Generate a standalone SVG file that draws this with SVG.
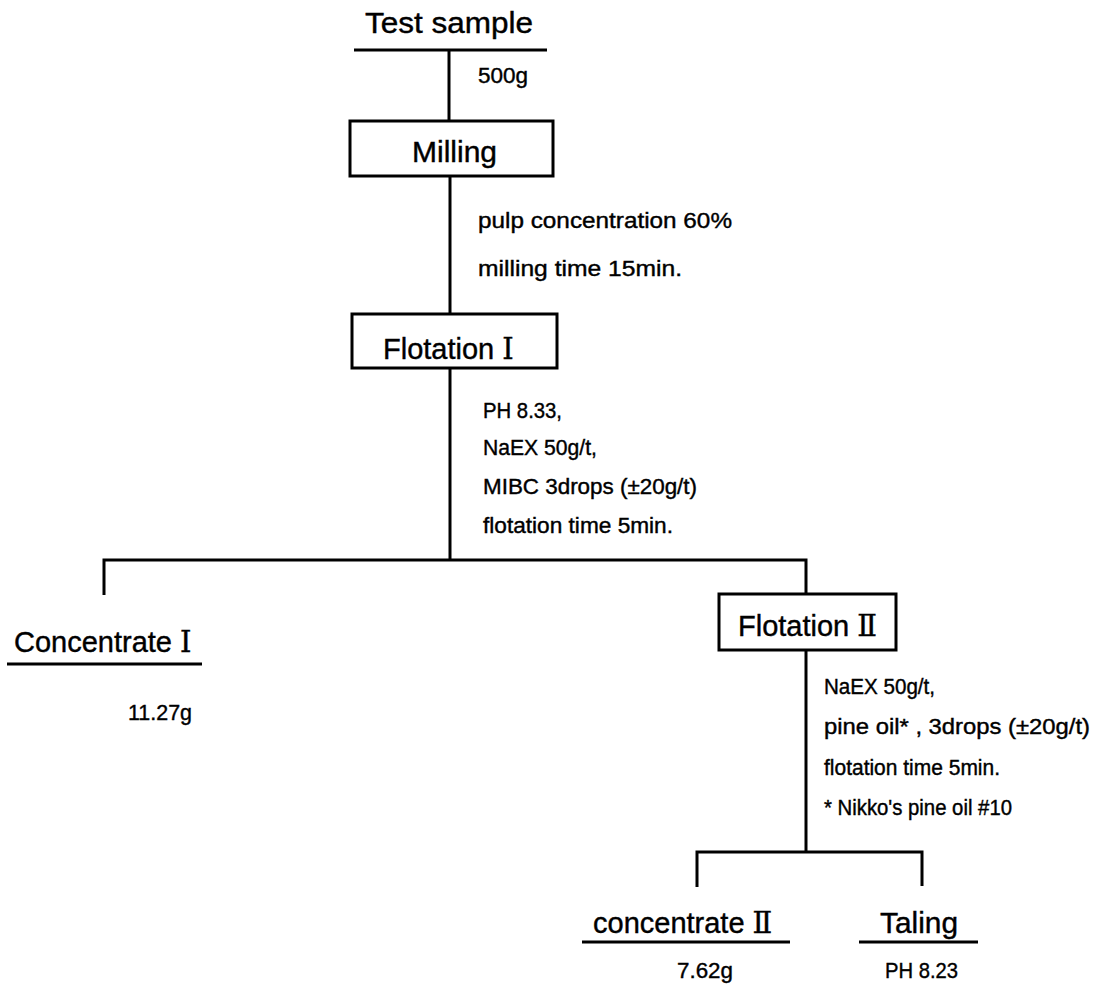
<svg xmlns="http://www.w3.org/2000/svg" width="1099" height="988" viewBox="0 0 1099 988">
<style>
.ln{stroke:#000;stroke-width:3;fill:none}
.box{stroke:#000;stroke-width:3;fill:#fff}
.big{font-family:"Liberation Sans",Arial,sans-serif;font-size:29px;fill:#000;stroke:#000;stroke-width:0.4}
.sm{font-family:"Liberation Sans",Arial,sans-serif;font-size:22px;fill:#000;stroke:#000;stroke-width:0.4}
.rn{font-family:"DejaVu Serif","Liberation Serif","Noto Sans CJK JP",serif}
</style>
<rect width="1099" height="988" fill="#fff"/>
<g id="connectors">
<line class="ln" x1="354" y1="50" x2="547" y2="50"/>
<line class="ln" x1="449" y1="50" x2="449" y2="121"/>
<line class="ln" x1="450" y1="176" x2="450" y2="314"/>
<line class="ln" x1="450" y1="368" x2="450" y2="560"/>
<polyline class="ln" points="104,595 104,560 806,560 806,594"/>
<line class="ln" x1="806" y1="650" x2="806" y2="852"/>
<polyline class="ln" points="697,887 697,852 922,852 922,886"/>
<line class="ln" x1="7" y1="664" x2="202" y2="664"/>
<line class="ln" x1="582" y1="942" x2="790" y2="942"/>
<line class="ln" x1="859" y1="942" x2="978" y2="942"/>
</g>
<g id="test-sample">
<text class="big" x="365" y="33" textLength="168" lengthAdjust="spacingAndGlyphs">Test sample</text>
<text class="sm" x="478" y="83" textLength="50" lengthAdjust="spacingAndGlyphs">500g</text>
</g>
<g id="milling">
<rect class="box" x="350" y="121" width="203" height="55"/>
<text class="big" x="412" y="162" textLength="85" lengthAdjust="spacingAndGlyphs">Milling</text>
<text class="sm" x="478" y="228" textLength="254" lengthAdjust="spacingAndGlyphs">pulp concentration  60%</text>
<text class="sm" x="478" y="276" textLength="204" lengthAdjust="spacingAndGlyphs">milling time 15min.</text>
</g>
<g id="flotation1">
<rect class="box" x="352" y="314" width="205" height="54"/>
<text class="big" x="383" y="359">Flotation <tspan class="rn">Ⅰ</tspan></text>
<text class="sm" x="483" y="418" textLength="79" lengthAdjust="spacingAndGlyphs">PH 8.33,</text>
<text class="sm" x="483" y="455" textLength="114" lengthAdjust="spacingAndGlyphs">NaEX 50g/t,</text>
<text class="sm" x="483" y="494" textLength="214" lengthAdjust="spacingAndGlyphs">MIBC 3drops (±20g/t)</text>
<text class="sm" x="483" y="533" textLength="190" lengthAdjust="spacingAndGlyphs">flotation time 5min.</text>
</g>
<g id="concentrate1">
<text class="big" x="14" y="652">Concentrate <tspan class="rn">Ⅰ</tspan></text>
<text class="sm" x="128" y="720" textLength="64" lengthAdjust="spacingAndGlyphs">11.27g</text>
</g>
<g id="flotation2">
<rect class="box" x="719" y="594" width="177" height="56"/>
<text class="big" x="738" y="636">Flotation <tspan class="rn">Ⅱ</tspan></text>
<text class="sm" x="824" y="694" textLength="111" lengthAdjust="spacingAndGlyphs">NaEX 50g/t,</text>
<text class="sm" x="824" y="734" textLength="266" lengthAdjust="spacingAndGlyphs">pine oil* , 3drops (±20g/t)</text>
<text class="sm" x="824" y="775" textLength="176" lengthAdjust="spacingAndGlyphs">flotation time 5min.</text>
<text class="sm" x="824" y="815" textLength="188" lengthAdjust="spacingAndGlyphs">* Nikko's pine oil #10</text>
</g>
<g id="concentrate2">
<text class="big" x="593" y="933">concentrate <tspan class="rn">Ⅱ</tspan></text>
<text class="sm" x="677" y="978" textLength="56" lengthAdjust="spacingAndGlyphs">7.62g</text>
</g>
<g id="taling">
<text class="big" x="880" y="933" textLength="78" lengthAdjust="spacingAndGlyphs">Taling</text>
<text class="sm" x="885" y="978" textLength="73" lengthAdjust="spacingAndGlyphs">PH 8.23</text>
</g>
</svg>
